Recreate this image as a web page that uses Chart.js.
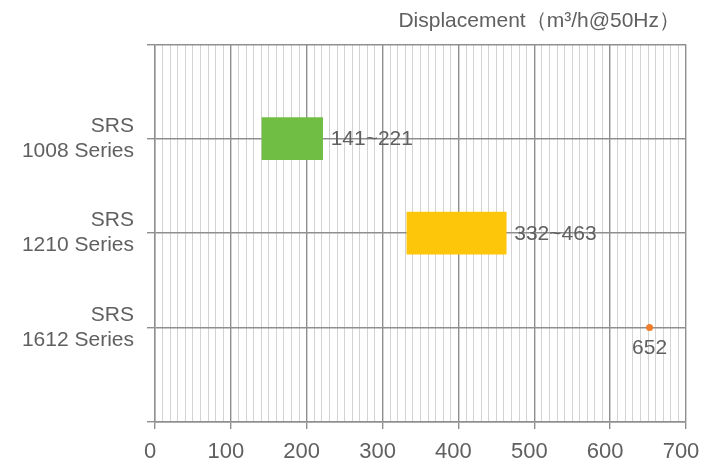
<!DOCTYPE html>
<html>
<head>
<meta charset="utf-8">
<script src="https://cdn.jsdelivr.net/npm/chart.js@4/dist/chart.umd.min.js"></script>
<style>
  body { margin: 0; background: #fff; }
  #wrap { width: 701px; height: 471px; }
</style>
</head>
<body>
<div id="wrap"><canvas id="dispChart"></canvas></div>
<script>
// series names (two lines each)
const categories = [['SRS', '1008 Series'], ['SRS', '1210 Series'], ['SRS', '1612 Series']];
// displacement ranges, m³/h @ 50Hz
const rangeLow = [141, 332, null];
const rangeHigh = [221, 463, null];
const singleValue = [null, null, 652];
const barColors = ['#70bf44', '#fec60b', '#f07c2c'];
const xTicks = [0, 100, 200, 300, 400, 500, 600, 700];

const FONT = "'Liberation Sans', Arial, sans-serif";
const MAJOR = '#8f8f8f';
const MINOR = '#d3d3d3';

// empty slot above and below so the grid has a line at top and bottom
const labels = [''].concat(categories, ['']);
const barData = [null].concat(rangeLow.map((lo, i) => lo == null ? null : [lo, rangeHigh[i]]), [null]);
const pointData = [null].concat(singleValue, [null]);

// writes "lo~hi" next to the bars and the single value under the point
const valueLabels = {
  id: 'valueLabels',
  afterDatasetsDraw(chart) {
    const ctx = chart.ctx;
    ctx.save();
    ctx.fillStyle = '#606060';
    ctx.font = '21px ' + FONT;
    chart.data.datasets.forEach((ds, di) => {
      chart.getDatasetMeta(di).data.forEach((el, i) => {
        const v = ds.data[i];
        if (v == null) return;
        if (Array.isArray(v)) {
          ctx.textAlign = 'left';
          ctx.textBaseline = 'middle';
          ctx.fillText(v[0] + '~' + v[1], el.x + 8, el.y + 1);
        } else {
          ctx.textAlign = 'center';
          ctx.textBaseline = 'top';
          ctx.fillText(String(v), el.x, el.y + 10);
        }
      });
    });
    ctx.restore();
  }
};

new Chart(document.getElementById('dispChart'), {
  type: 'bar',
  data: {
    labels: labels,
    datasets: [{
      label: 'range',
      data: barData,
      backgroundColor: [null].concat(barColors),
      barThickness: 42,
      borderWidth: 0
    }, {
      type: 'line',
      label: 'single',
      data: pointData,
      showLine: false,
      pointRadius: 3.5,
      pointHoverRadius: 3.5,
      pointBackgroundColor: barColors[2],
      pointBorderWidth: 0
    }]
  },
  options: {
    indexAxis: 'y',
    responsive: true,
    maintainAspectRatio: false,
    animation: false,
    layout: { padding: { top: 6, right: 0, left: 0, bottom: 0 } },
    plugins: {
      legend: { display: false },
      tooltip: { enabled: false },
      title: {
        display: true,
        text: 'Displacement（m³/h@50Hz）\u3000',
        align: 'end',
        color: '#606060',
        font: { family: FONT, size: 21, weight: 'normal' },
        padding: { top: 3, bottom: 10 }
      }
    },
    scales: {
      x: {
        type: 'linear',
        min: xTicks[0],
        max: xTicks[xTicks.length - 1],
        afterFit: s => { s.height = 49; s.paddingRight = 15; s.paddingLeft = 0; },
        ticks: {
          stepSize: 10,
          autoSkip: false,
          maxRotation: 0,
          padding: 10,
          labelOffset: -5,
          color: '#606060',
          font: { family: FONT, size: 22 },
          callback: v => xTicks.includes(v) ? v : ''
        },
        grid: {
          color: c => (c.tick && c.tick.value % 100 === 0) ? MAJOR : MINOR,
          lineWidth: c => (c.tick && c.tick.value % 100 === 0) ? 1.4 : 1,
          tickColor: c => (c.tick && c.tick.value % 100 === 0) ? MAJOR : 'rgba(0,0,0,0)',
          tickLength: 7
        },
        border: { color: MAJOR, width: 1.4 }
      },
      y: {
        type: 'category',
        offset: false,
        afterFit: s => { s.width = 155; },
        ticks: {
          autoSkip: false,
          padding: 13,
          color: '#606060',
          font: { family: FONT, size: 21, lineHeight: 1.2 }
        },
        grid: {
          offset: false,
          color: MAJOR,
          lineWidth: 1.4,
          tickLength: 8
        },
        border: { color: MAJOR, width: 1.4 }
      }
    }
  },
  plugins: [valueLabels]
});
</script>
</body>
</html>
